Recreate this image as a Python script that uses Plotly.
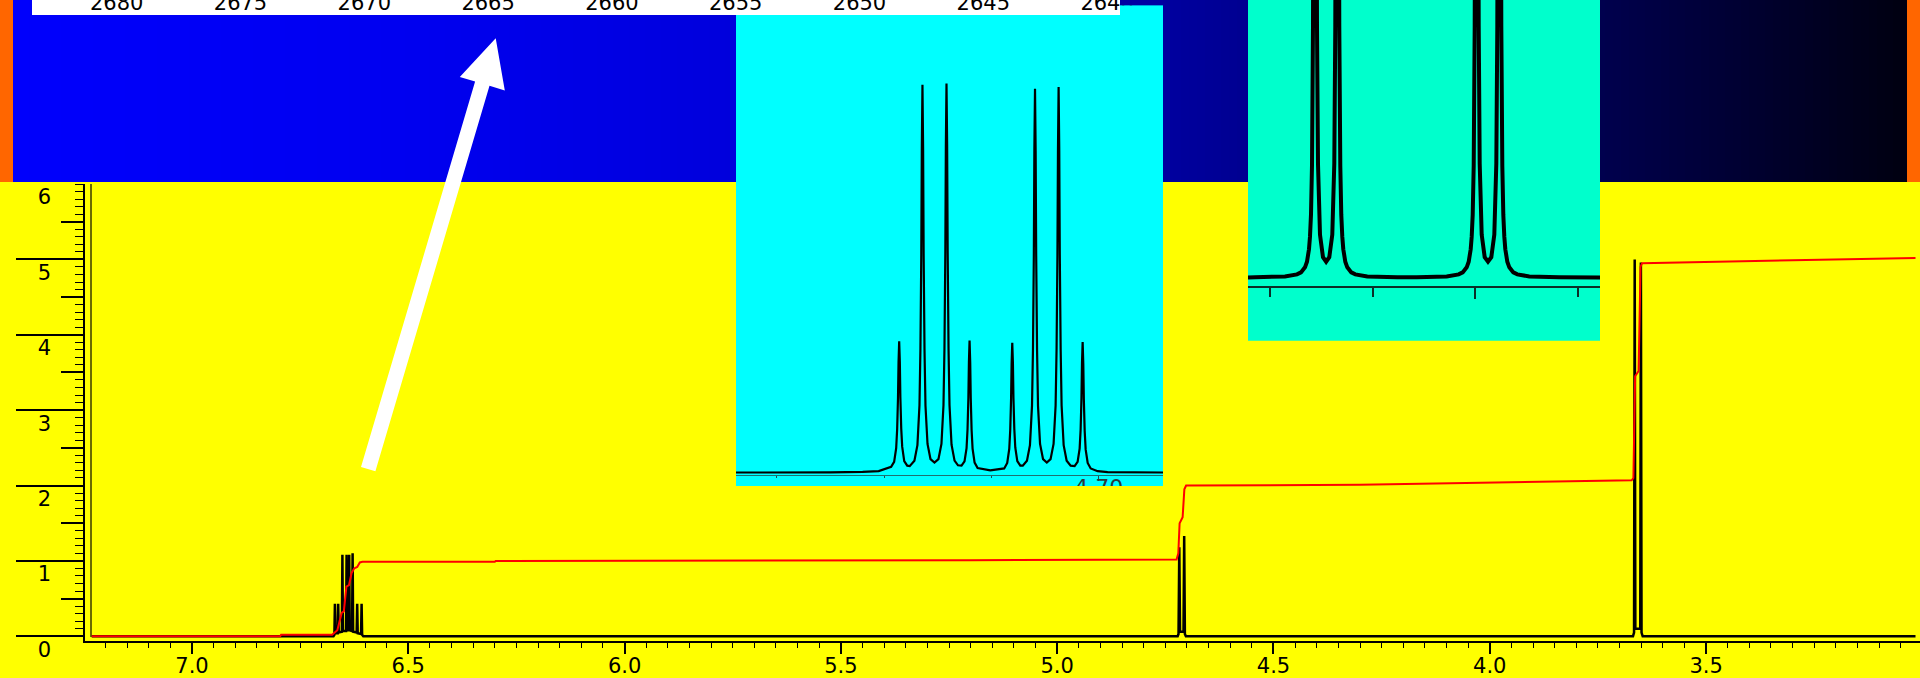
import plotly.graph_objects as go

# ============================ DATA ============================
# Main 1H spectrum (chemical shift ppm, intensity)
main_ppm = [7.2317, 6.6730, 6.6708, 6.6696, 6.6684, 6.6632, 6.6620, 6.6608, 6.6535, 6.6523,
            6.6511, 6.6438, 6.6426, 6.6414, 6.6378, 6.6366, 6.6354, 6.6299, 6.6287, 6.6275,
            6.6193, 6.6181, 6.6169, 6.6091, 6.6079, 6.6067, 6.6040,
            4.7215, 4.7195, 4.7177, 4.7160, 4.7080, 4.7064, 4.7048, 4.7025,
            3.6690, 3.6665, 3.6650, 3.6635, 3.6522, 3.6507, 3.6492, 3.6465, 3.0159]
main_int = [0.0, 0.0, 0.02, 0.43, 0.04, 0.04, 0.43, 0.05, 0.06, 1.08,
            0.07, 0.07, 1.08, 0.08, 0.08, 1.08, 0.08, 0.07, 1.10, 0.06,
            0.05, 0.43, 0.04, 0.03, 0.43, 0.02, 0.0,
            0.0, 0.03, 1.18, 0.06, 0.06, 1.33, 0.03, 0.0,
            0.0, 0.05, 5.00, 0.10, 0.10, 4.96, 0.05, 0.0, 0.0]

# Integral curve (ppm, cumulative value)
integ_ppm = [7.2317, 6.7960, 6.7940, 6.6760, 6.6740, 6.6640, 6.6540, 6.6490, 6.6430, 6.6370,
             6.6310, 6.6250, 6.6180, 6.6120, 6.6060, 6.3000, 6.2980, 5.2000, 4.7240, 4.7200,
             4.7170, 4.7100, 4.7060, 4.7020, 4.3000, 3.6720, 3.6680, 3.6640, 3.6560, 3.6515,
             3.6480, 3.3000, 3.0159]
integ_val = [0.00, 0.00, 0.02, 0.02, 0.03, 0.08, 0.31, 0.33, 0.66, 0.68,
             0.84, 0.90, 0.92, 0.98, 0.99, 0.99, 1.00, 1.01, 1.02, 1.10,
             1.50, 1.58, 1.95, 2.00, 2.01, 2.07, 2.10, 3.45, 3.52, 4.90,
             4.95, 4.99, 5.02]

# Inset 1: expansion of the 4.70 ppm multiplet (ppm, intensity)
ins1_ppm = [4.7338, 4.7250, 4.7220, 4.7205,
            4.71934, 4.71906, 4.71887, 4.71878, 4.71870, 4.71865, 4.71859, 4.71853, 4.71848, 4.71840,
            4.71831, 4.71812, 4.71784, 4.71761,
            4.71717, 4.71689, 4.71670, 4.71661, 4.71653, 4.71648, 4.71642, 4.71636, 4.71631, 4.71623,
            4.71614, 4.71595, 4.71567, 4.71530,
            4.71493, 4.71465, 4.71446, 4.71437, 4.71429, 4.71424, 4.71418, 4.71412, 4.71407, 4.71399,
            4.71390, 4.71371, 4.71343, 4.71311,
            4.71278, 4.71250, 4.71231, 4.71222, 4.71214, 4.71209, 4.71203, 4.71197, 4.71192, 4.71184,
            4.71175, 4.71156, 4.71128, 4.71010,
            4.70880, 4.70852, 4.70833, 4.70824, 4.70816, 4.70811, 4.70805, 4.70799, 4.70794, 4.70786,
            4.70777, 4.70758, 4.70730, 4.70707,
            4.70668, 4.70640, 4.70621, 4.70612, 4.70604, 4.70599, 4.70593, 4.70587, 4.70582, 4.70574,
            4.70565, 4.70546, 4.70518, 4.70483,
            4.70448, 4.70420, 4.70401, 4.70392, 4.70384, 4.70379, 4.70373, 4.70367, 4.70362, 4.70354,
            4.70345, 4.70326, 4.70298, 4.70261,
            4.70224, 4.70196, 4.70177, 4.70168, 4.70160, 4.70155, 4.70149, 4.70143, 4.70138, 4.70130,
            4.70121, 4.70102, 4.70074, 4.70009, 4.69916, 4.6940]
ins1_int = [0.05, 0.08, 0.2, 0.4,
            1.5, 2.8, 6.3, 11.1, 19.3, 28.4, 33.8, 28.5, 19.5, 11.4,
            6.7, 3.0, 1.8, 1.7,
            3.1, 7.1, 17.3, 31.8, 56.2, 83.5, 99.8, 83.5, 56.2, 31.8,
            17.3, 7.4, 3.5, 2.6,
            3.5, 7.4, 17.4, 32.0, 56.5, 83.8, 100.1, 84.0, 56.5, 32.0,
            17.4, 7.2, 3.1, 1.9,
            1.8, 2.9, 6.3, 11.1, 19.3, 28.5, 34.0, 28.4, 19.2, 11.0,
            6.2, 2.6, 1.2, 0.6,
            1.1, 2.5, 6.1, 10.9, 19.0, 28.1, 33.4, 28.3, 19.3, 11.3,
            6.5, 3.0, 1.8, 1.8,
            3.1, 7.1, 17.2, 31.6, 55.8, 82.8, 98.8, 82.8, 55.8, 31.6,
            17.2, 7.4, 3.5, 2.6,
            3.5, 7.4, 17.3, 31.8, 56.0, 83.1, 99.2, 83.1, 56.0, 31.8,
            17.3, 7.1, 3.1, 1.8,
            1.7, 2.8, 6.2, 11.0, 19.2, 28.3, 33.6, 28.0, 19.0, 10.8,
            6.0, 2.5, 1.1, 0.4, 0.15, 0.05]

# Inset 2: expansion of the 3.65 ppm signals (ppm, intensity; tops run off-scale)
ins2_ppm = [3.672130, 3.671450, 3.668529, 3.667361, 3.666971, 3.666582, 3.666387, 3.666192, 3.666095,
            3.665997, 3.665900, 3.665803, 3.665754, 3.665705, 3.665608, 3.665511, 3.665462, 3.665413,
            3.665316, 3.665121, 3.664829, 3.664522, 3.664216, 3.663924, 3.663729, 3.663632, 3.663583,
            3.663534, 3.663437, 3.663340, 3.663291, 3.663242, 3.663145, 3.663048, 3.662950, 3.662853,
            3.662658, 3.662463, 3.662074, 3.661684, 3.660516, 3.657595, 3.656650,
            3.655706, 3.652785, 3.651617, 3.651227, 3.650838, 3.650643, 3.650448, 3.650351, 3.650253,
            3.650156, 3.650059, 3.650010, 3.649961, 3.649864, 3.649767, 3.649718, 3.649669, 3.649572,
            3.649377, 3.649085, 3.648764, 3.648442, 3.648150, 3.647955, 3.647858, 3.647809, 3.647760,
            3.647663, 3.647566, 3.647517, 3.647468, 3.647371, 3.647274, 3.647176, 3.647079, 3.646884,
            3.646689, 3.646300, 3.645910, 3.644742, 3.641821, 3.637860]
ins2_int = [0.3, 0.5, 1.3, 3.3, 5.3, 10.4, 16, 28.5, 41,
            63, 112, 252, 446, 1002, 2500, 1002, 446, 252,
            114, 43, 20.5, 16.0, 20.5, 43, 114, 252, 446,
            1002, 2500, 1002, 446, 252, 112, 63, 41, 28.5,
            16, 10.4, 5.3, 3.3, 1.3, 0.5, 0.45,
            0.5, 1.3, 3.3, 5.3, 10.4, 16, 28.5, 41, 63,
            112, 252, 446, 1002, 2500, 1002, 446, 252, 114,
            43, 20.5, 16.0, 20.5, 43, 114, 252, 446, 1002,
            2500, 1002, 446, 252, 112, 63, 41, 28.5, 16,
            10.4, 5.3, 3.3, 1.3, 0.5, 0.2]

# Tick values / labels
x_ticks = [7.0, 6.5, 6.0, 5.5, 5.0, 4.5, 4.0, 3.5]
x_ticklabels = ["7.0", "6.5", "6.0", "5.5", "5.0", "4.5", "4.0", "3.5"]
y_major_ticks = [0, 1, 2, 3, 4, 5]
y_half_ticks = [0.5, 1.5, 2.5, 3.5, 4.5, 5.5]
y_label_ticks = [0, 1, 2, 3, 4, 5, 6]
y_ticklabels = ["0", "1", "2", "3", "4", "5", "6"]
hz_ticks = [2680, 2675, 2670, 2665, 2660, 2655, 2650, 2645, 2640]
hz_ticklabels = ["2680", "2675", "2670", "2665", "2660", "2655", "2650", "2645", "2640"]
ins1_major = [4.70]
ins1_minor = [4.73, 4.72, 4.71]
ins2_major = [3.65]
ins2_minor = [3.67, 3.66, 3.64]

# ============================ LAYOUT HELPERS ============================
W, H = 1920, 678
FONT = "DejaVu Sans"


def fx(px):
    return px / W


def fy(py):
    return 1 - py / H


fig = go.Figure()

common = dict(mode="lines", hoverinfo="skip", showlegend=False)
fig.add_trace(go.Scatter(x=main_ppm, y=main_int, xaxis="x", yaxis="y",
                         line=dict(color="black", width=2.5, simplify=False), **common))
fig.add_trace(go.Scatter(x=integ_ppm, y=integ_val, xaxis="x", yaxis="y",
                         line=dict(color="#FF0000", width=2, simplify=False), **common))
fig.add_trace(go.Scatter(x=[], y=[], xaxis="x", yaxis="y2", **common))
fig.add_trace(go.Scatter(x=[], y=[], xaxis="x", yaxis="y3", **common))
fig.add_trace(go.Scatter(x=ins1_ppm, y=ins1_int, xaxis="x2", yaxis="y4",
                         line=dict(color="black", width=2.2, simplify=False), **common))
fig.add_trace(go.Scatter(x=ins2_ppm, y=ins2_int, xaxis="x3", yaxis="y5",
                         line=dict(color="black", width=4, simplify=False), **common))
fig.add_trace(go.Scatter(x=[], y=[], xaxis="x4", yaxis="y6", **common))

noaxis = dict(showgrid=False, zeroline=False, automargin=False)
y_rng = [-0.0624, 6.0]

layout = dict(
    template="none",
    width=W, height=H, margin=dict(l=0, r=0, t=0, b=0, pad=0, autoexpand=False),
    paper_bgcolor="#FFFF00", plot_bgcolor="rgba(0,0,0,0)", showlegend=False,
    xaxis=dict(domain=[fx(85), 1], range=[7.2473, 3.0055], anchor="y", **noaxis,
               showline=True, linecolor="black", linewidth=2,
               ticks="outside", ticklen=11, tickwidth=1.5, tickcolor="black",
               tickmode="array", tickvals=x_ticks, ticktext=x_ticklabels, ticklabelstandoff=-6,
               minor=dict(dtick=0.05, tick0=0, ticks="outside", ticklen=5, tickwidth=1.2, tickcolor="black"),
               tickfont=dict(family=FONT, size=21, color="black")),
    yaxis=dict(domain=[fy(641), fy(184)], range=y_rng, anchor="x", **noaxis,
               showline=True, linecolor="black", linewidth=2,
               ticks="outside", ticklen=67, tickwidth=1.5, tickcolor="black",
               tickmode="array", tickvals=y_major_ticks, showticklabels=False,
               minor=dict(dtick=0.1, tick0=0, ticks="outside", ticklen=8, tickwidth=1.2, tickcolor="black")),
    yaxis2=dict(overlaying="y", anchor="x", side="left", range=y_rng, **noaxis,
                showline=False, ticks="outside", ticklen=23, tickwidth=1.5, tickcolor="black",
                tickmode="array", tickvals=y_half_ticks, showticklabels=False),
    yaxis3=dict(overlaying="y", anchor="free", position=fx(51), side="left", range=y_rng, **noaxis,
                showline=False, ticks="", tickmode="array", tickvals=y_label_ticks, ticktext=y_ticklabels,
                ticklabelshift=13, tickfont=dict(family=FONT, size=21, color="black")),
    # inset 1
    xaxis2=dict(domain=[fx(736), fx(1163)], range=[4.7338, 4.6940], anchor="y4", **noaxis,
                showline=True, linecolor="#1f7070", linewidth=1,
                ticks="outside", ticklen=5, tickwidth=1, tickcolor="#1f5050",
                tickmode="array", tickvals=ins1_major, ticktext=["4.70"], ticklabelstandoff=-12,
                minor=dict(tickmode="array", tickvals=ins1_minor, ticks="outside", ticklen=2,
                           tickwidth=1, tickcolor="#1f5050"),
                tickfont=dict(family=FONT, size=22, color="#2a3a3a")),
    yaxis4=dict(domain=[fy(475), fy(6)], range=[-0.59, 120.07], anchor="x2", **noaxis,
                showline=False, ticks="", showticklabels=False),
    # inset 2
    xaxis3=dict(domain=[fx(1248), fx(1600)], range=[3.67213, 3.63786], anchor="y5", **noaxis,
                showline=True, linecolor="#0b2f28", linewidth=1.5,
                ticks="outside", ticklen=11, tickwidth=1.5, tickcolor="#0b2f28",
                tickmode="array", tickvals=ins2_major, showticklabels=False,
                minor=dict(tickmode="array", tickvals=ins2_minor, ticks="outside", ticklen=9,
                           tickwidth=1.5, tickcolor="#0b2f28")),
    yaxis5=dict(domain=[fy(286), 1], range=[-8.3, 277.7], anchor="x3", **noaxis,
                showline=False, ticks="", showticklabels=False),
    # Hz scale in the white strip
    xaxis4=dict(domain=[fx(32), fx(1120)], range=[2683.42, 2639.48], anchor="y6", side="top", **noaxis,
                showline=False, ticks="", tickmode="array", tickvals=hz_ticks, ticktext=hz_ticklabels,
                tickfont=dict(family=FONT, size=21, color="black")),
    yaxis6=dict(domain=[fy(16), fy(15)], range=[0, 1], anchor="x4", **noaxis,
                showline=False, ticks="", showticklabels=False),
)

# ---------------- decorative background ----------------
shapes = []


def rect(x0, y0, x1, y1, color, layer="below"):
    return dict(type="rect", xref="paper", yref="paper", x0=fx(x0), x1=fx(x1), y0=fy(y1), y1=fy(y0),
                fillcolor=color, line=dict(width=0), layer=layer)


stops = [(13, 252), (400, 240), (736, 220), (1000, 185), (1205, 152), (1400, 115),
         (1600, 78), (1750, 48), (1907, 16)]


def blue_at(x):
    for (xa, ba), (xb, bb) in zip(stops[:-1], stops[1:]):
        if xa <= x <= xb:
            return ba + (bb - ba) * (x - xa) / (xb - xa)
    return stops[-1][1]


step = 8
x = 13
while x < 1907:
    x1 = min(x + step, 1907)
    b = int(round(blue_at((x + x1) / 2)))
    shapes.append(rect(x, 0, min(x1 + 3, 1907), 182, f"rgb(0,0,{b})"))
    x = x1

shapes.append(rect(0, 0, 13, 182, "#FF6600"))
shapes.append(rect(1907, 0, 1920, 182, "#FF6600"))
shapes.append(rect(736, 5.5, 1163, 486, "#00FFFF"))
shapes.append(rect(1248, 0, 1600, 340.7, "#00FFCC"))
shapes.append(rect(32, 0, 1120, 15, "#FFFFFF"))
# second vertical frame line of the main plot
shapes.append(dict(type="line", xref="paper", yref="paper", x0=fx(91), x1=fx(91), y0=fy(637), y1=fy(184),
                   line=dict(color="#3a3a00", width=1.5), layer="below"))

# clip overflowing labels
shapes.append(rect(1120, 0, 1163, 5.5, "rgb(0,0,%d)" % int(blue_at(1140)), layer="above"))
shapes.append(rect(1120, 5.5, 1163, 15, "#00FFFF", layer="above"))
shapes.append(rect(1000, 486, 1170, 505, "#FFFF00", layer="above"))

# white arrow
arrow_pts = [(361.0, 467.1), (475.1, 81.6), (459.8, 77.0), (495.7, 38.3),
             (504.8, 90.4), (489.5, 85.8), (375.4, 471.3)]
path = "M " + " L ".join(f"{fx(px):.5f},{fy(py):.5f}" for px, py in arrow_pts) + " Z"
shapes.append(dict(type="path", xref="paper", yref="paper", path=path,
                   fillcolor="#FFFFFF", line=dict(width=0), layer="above"))

layout["shapes"] = shapes
fig.update_layout(**layout)

fig.write_html("out.html", config={"displayModeBar": False},
               post_script="document.body.style.margin='0';document.body.style.overflow='hidden';")
